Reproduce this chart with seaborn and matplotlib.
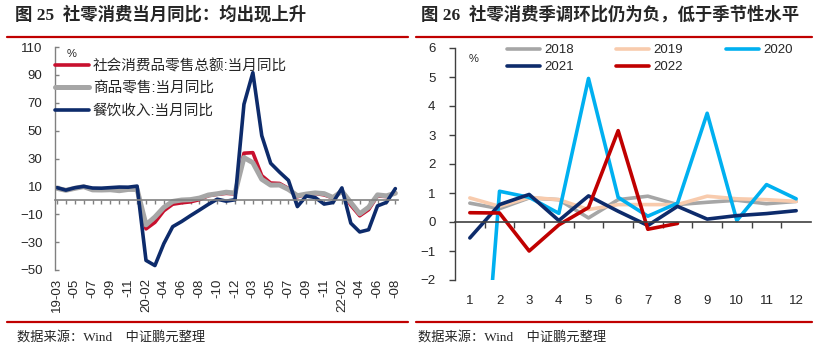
import matplotlib
matplotlib.use('Agg')
import matplotlib.pyplot as plt
from matplotlib.lines import Line2D
import numpy as np
import pandas as pd
import seaborn as sns

sns.set_theme(style='white')
plt.rcParams['font.family'] = ['Liberation Sans', 'Noto Sans CJK SC']
plt.rcParams['axes.unicode_minus'] = True

# ---------------- Left chart data (当月同比, %) ----------------
left_tick_labels = ['19-03', '-05', '-07', '-09', '-11', '20-02', '-04', '-06', '-08', '-10',
                    '-12', '-03', '-05', '-07', '-09', '-11', '22-02', '-04', '-06', '-08']
retail_total = [8.7, 7.2, 8.6, 9.8, 7.6, 7.5, 7.8, 7.2, 8.0, 8.0,
                -20.5, -15.8, -7.5, -2.8, -1.8, -1.1, 0.5, 3.3, 4.3, 5.0, 4.6,
                33.8, 34.2, 17.7, 12.4, 12.1, 8.5, 2.5, 4.4, 4.9, 3.9, 1.7,
                6.7, -3.5, -11.1, -6.7, 3.1, 2.7, 5.4]
goods_retail = [8.6, 7.2, 8.6, 9.8, 7.5, 7.4, 7.6, 6.9, 7.8, 7.8,
                -17.6, -12.0, -5.1, -0.8, 0.2, 0.5, 1.6, 3.8, 4.7, 5.8, 5.2,
                30.7, 27.0, 15.1, 10.9, 11.0, 7.8, 3.3, 4.5, 5.3, 4.8, 2.0,
                6.5, -1.6, -9.7, -5.0, 3.9, 3.2, 5.1]
catering = [9.1, 7.3, 9.0, 10.0, 8.8, 8.7, 9.1, 9.5, 9.4, 10.2,
            -43.1, -46.8, -31.1, -18.9, -15.2, -11.0, -7.0, -2.9, 0.8, -0.6, 0.4,
            68.9, 91.6, 46.4, 26.6, 20.2, 14.3, -4.5, 3.1, 2.0, -2.7, -1.6,
            8.9, -16.4, -22.7, -21.1, -4.0, -1.5, 8.4]
left_series_names = ['社会消费品零售总额:当月同比', '商品零售:当月同比', '餐饮收入:当月同比']

# ---------------- Right chart data (季调环比, %) ----------------
months = list(range(1, 13))
y2018 = [0.65, 0.46, 0.83, 0.77, 0.14, 0.77, 0.89, 0.60, 0.68, 0.75, 0.63, 0.71]
y2019 = [0.83, 0.54, 0.85, 0.77, 0.43, 0.60, 0.60, 0.60, 0.89, 0.80, 0.77, 0.71]
y2020 = [-12.0, 1.06, 0.85, 0.30, 4.95, 0.85, 0.20, 0.65, 3.75, 0.05, 1.29, 0.80]
y2021 = [-0.55, 0.60, 0.95, 0.05, 0.90, 0.37, -0.12, 0.54, 0.10, 0.22, 0.29, 0.39]
y2022 = [0.32, 0.31, -1.00, -0.10, 0.50, 3.15, -0.25, -0.05]
year_names = ['2018', '2019', '2020', '2021', '2022']

W, H = 821, 348
fig = plt.figure(figsize=(W / 100, H / 100), dpi=100)

AXC = '#808080'

# ================= LEFT =================
axL = fig.add_axes([55 / W, 1 - 270 / H, (398 - 55) / W, (270 - 47) / H])
n = len(retail_total)
idx = np.arange(n)
dfL = pd.DataFrame({'idx': idx, 'total': retail_total, 'goods': goods_retail, 'cater': catering})
sns.lineplot(data=dfL, x='idx', y='total', ax=axL, color='#C8102E', lw=2.6, label=left_series_names[0])
sns.lineplot(data=dfL, x='idx', y='goods', ax=axL, color='#A6A6A6', lw=3.6, label=left_series_names[1])
sns.lineplot(data=dfL, x='idx', y='cater', ax=axL, color='#0D2B6B', lw=2.6, label=left_series_names[2])
axL.set_xlim(-0.22, 38.3)
axL.set_ylim(-50, 110)
axL.set_yticks(range(-50, 111, 20))
axL.set_xlabel('')
axL.set_ylabel('')
for s in ['top', 'right']:
    axL.spines[s].set_visible(False)
axL.spines['left'].set_color(AXC)
axL.spines['left'].set_linewidth(1)
axL.spines['bottom'].set_position(('data', 0))
axL.spines['bottom'].set_color(AXC)
axL.spines['bottom'].set_linewidth(1.2)
axL.set_xticks(idx)
axL.tick_params(axis='x', direction='out', length=3, width=1, color=AXC, labelbottom=False, bottom=True)
axL.tick_params(axis='y', direction='in', length=3, width=1, color=AXC, labelsize=9.5, pad=9, left=True)
secL = axL.secondary_xaxis('bottom')
secL.set_xticks(np.arange(0, n, 2), labels=left_tick_labels, rotation=90)
secL.tick_params(length=0, pad=6, labelsize=9.5)
secL.spines['bottom'].set_visible(False)
axL.text(0.035, 0.99, '%', transform=axL.transAxes, fontsize=8, va='top', ha='left')
axL.legend(loc='upper left', bbox_to_anchor=(0.0, 0.947), frameon=False, fontsize=10.5,
           handlelength=2.3, handletextpad=0.3, labelspacing=0.58, borderaxespad=0, borderpad=0)

# ================= RIGHT =================
axR = fig.add_axes([455 / W, 1 - 280 / H, 356 / W, (280 - 48) / H])
colors = ['#A6A6A6', '#F8CBAD', '#00B0F0', '#0D2B6B', '#C00000']
series = [y2018, y2019, y2020, y2021, y2022]
for name, ys, c in zip(year_names, series, colors):
    d = pd.DataFrame({'m': months[:len(ys)], 'v': ys})
    sns.lineplot(data=d, x='m', y='v', ax=axR, color=c, lw=2.6, label=name)
axR.set_xlim(0.5, 12.5)
axR.set_ylim(-2, 6)
axR.set_yticks(range(-2, 7))
axR.set_xlabel('')
axR.set_ylabel('')
for s in ['top', 'right']:
    axR.spines[s].set_visible(False)
axR.spines['left'].set_color('#404040')
axR.spines['left'].set_linewidth(1)
axR.spines['bottom'].set_position(('data', 0))
axR.spines['bottom'].set_color('#404040')
axR.spines['bottom'].set_linewidth(1.2)
axR.set_xticks(np.arange(1.5, 12.0, 1.0))
axR.tick_params(axis='x', direction='out', length=4, width=1, color='#404040', labelbottom=False, bottom=True)
axR.tick_params(axis='y', direction='out', length=4, width=1, color='#404040', labelsize=9.5, pad=10, left=True)
secR = axR.secondary_xaxis('bottom')
secR.set_xticks(months, labels=[str(m) for m in months])
secR.tick_params(length=0, pad=11, labelsize=9.5)
secR.spines['bottom'].set_visible(False)
axR.text(0.038, 0.975, '%', transform=axR.transAxes, fontsize=8, va='top', ha='left')
h, l = axR.get_legend_handles_labels()
order = [0, 3, 1, 4, 2]
axR.legend([h[i] for i in order], [l[i] for i in order], loc='upper left', ncol=3,
           bbox_to_anchor=(0.146, 1.017), frameon=False, fontsize=9.5, handlelength=2.5,
           handletextpad=0.3, columnspacing=3.25, labelspacing=0.35, borderaxespad=0, borderpad=0)

# ================= Decorations =================
RED = '#C00000'
title_fam = ['Liberation Serif', 'Noto Sans CJK SC']
fig.text(15 / W, 1 - 15 / H, '图 25  社零消费当月同比：均出现上升', fontsize=12.5, fontweight='bold',
         va='center', ha='left', family=title_fam)
fig.text(421 / W, 1 - 15 / H, '图 26  社零消费季调环比仍为负，低于季节性水平', fontsize=12.5, fontweight='bold',
         va='center', ha='left', family=title_fam)
for x0, x1 in [(7, 408), (416, 812)]:
    fig.add_artist(Line2D([x0 / W, x1 / W], [1 - 36.5 / H] * 2, color=RED, lw=1.6))
    fig.add_artist(Line2D([x0 / W, x1 / W], [1 - 322 / H] * 2, color=RED, lw=1.6))
src_fam = ['Liberation Serif', 'Noto Sans CJK SC']
fig.text(17 / W, 1 - 337 / H, '数据来源：Wind    中证鹏元整理', fontsize=9.5, va='center', ha='left', family=src_fam)
fig.text(418 / W, 1 - 337 / H, '数据来源：Wind    中证鹏元整理', fontsize=9.5, va='center', ha='left', family=src_fam)

fig.savefig('out.png', dpi=100)
